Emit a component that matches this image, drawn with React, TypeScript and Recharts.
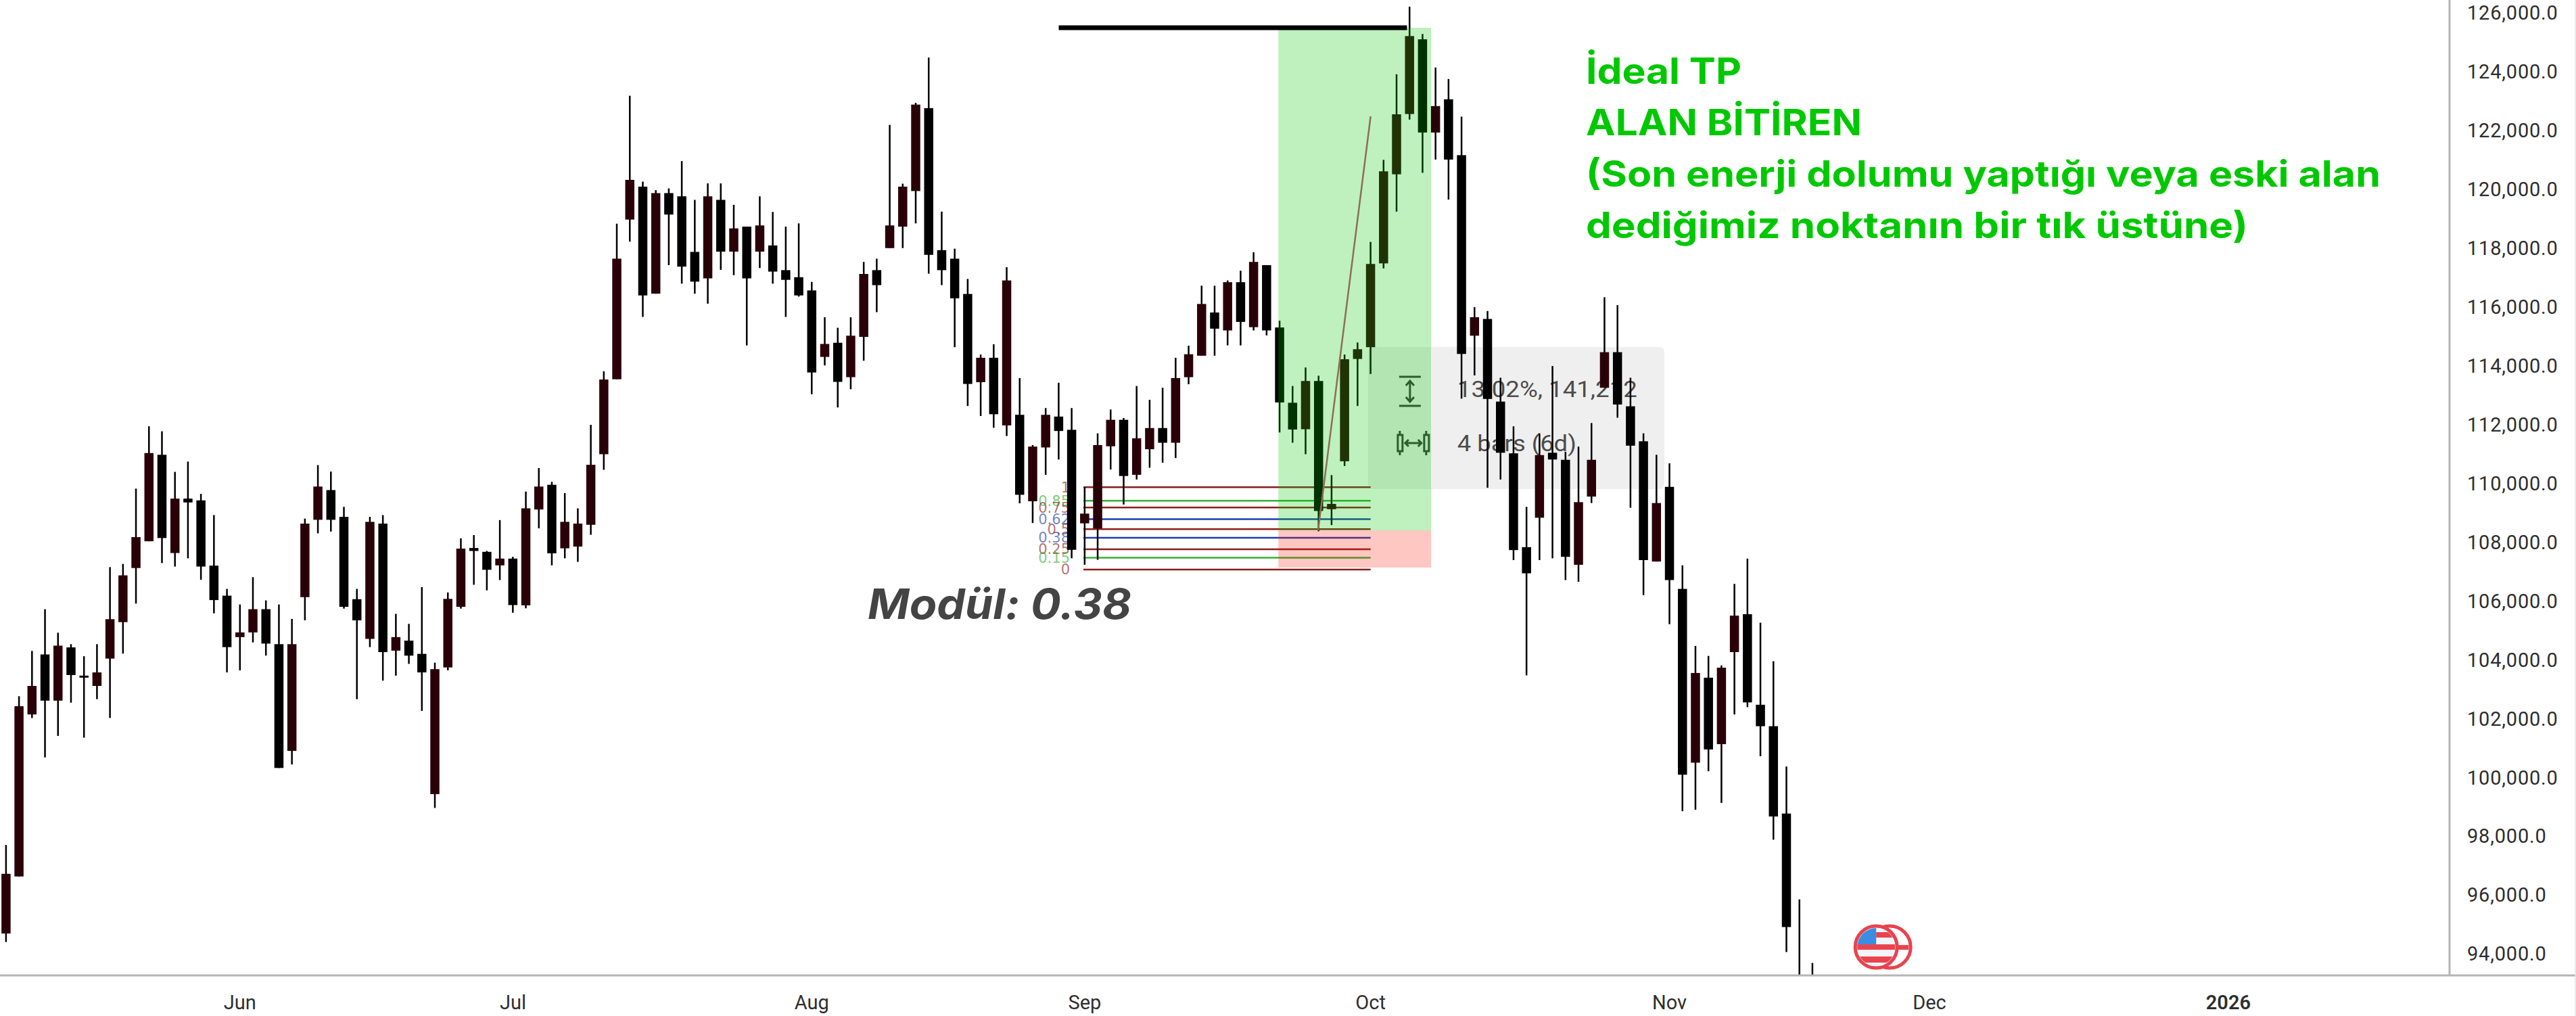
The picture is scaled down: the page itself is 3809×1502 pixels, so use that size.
import React from "react";
import {
  ComposedChart,
  Bar,
  XAxis,
  YAxis,
  ReferenceArea,
  ReferenceLine,
  ReferenceDot,
} from "recharts";

// price per candle (the last two bodies sit below the visible range)
const opens = [
  94690, 96630, 102140, 104180, 102610, 104420, 103460, 103110, 104040, 105280,
  107120, 108030, 110970, 107630, 109480, 109420, 107200, 106180, 104770, 104930,
  105720, 104530, 100900, 106130, 108760, 109770, 108860, 106060, 104710, 108630,
  104310, 104650, 104200, 99430, 103740, 105800, 107800, 107670, 107210, 107440,
  105850, 109110, 109950, 107790, 107850, 108590, 110990, 113540, 118970, 120090,
  116450, 119870, 119760, 117870, 116970, 119640, 117880, 118730, 117880, 118090,
  117250, 117010, 116560, 114300, 114780, 113610, 114980, 117250, 118000, 118730,
  119940, 122760, 117930, 117640, 116440, 113440, 114270, 111970, 112330, 109390,
  111220, 112270, 111820, 108640, 108470, 111260, 112160, 110290, 111160, 111880,
  111380, 113610, 114340, 115810, 115200, 116840, 115310, 117420, 115300, 112740,
  111840, 113480, 109120, 110750, 114230, 114630, 117480, 120510, 122560, 125100,
  121930, 123060, 121160, 115020, 115590, 112780, 111020, 107830, 108830, 111040,
  110800, 107230, 109550, 113250, 114460, 112620, 111430, 107340, 109880, 106410,
  100500, 103390, 101130, 104260, 105550, 102470, 101740, 98770, 93000, 92000,
];
const closes = [
  96720, 102420, 103110, 102610, 104480, 103480, 103400, 103570, 105380, 106870,
  108170, 111030, 108140, 109480, 109350, 107170, 106030, 104430, 104930, 105720,
  104550, 100320, 104530, 108630, 109890, 108760, 105800, 105340, 108690, 104260,
  104770, 104140, 103570, 103680, 106070, 107780, 107700, 107060, 107440, 105860,
  109150, 109890, 107620, 108690, 108630, 110630, 113530, 117640, 120320, 116390,
  119870, 119140, 117370, 116860, 119760, 117880, 118670, 116970, 118770, 117200,
  116920, 116390, 113770, 114740, 113450, 115020, 117120, 116740, 118770, 120090,
  122880, 117770, 117250, 116290, 113380, 114270, 112350, 116900, 109610, 111250,
  112330, 111780, 107740, 108970, 111300, 112160, 110250, 111530, 111880, 111380,
  113580, 114390, 116100, 115260, 116840, 115490, 117530, 115200, 112750, 111830,
  113480, 109060, 109300, 114220, 114560, 117460, 120610, 122550, 125210, 121930,
  122830, 121010, 114400, 115650, 112870, 111040, 107730, 106940, 110960, 110810,
  107500, 109360, 110800, 114460, 112680, 111280, 107390, 109330, 106710, 100090,
  103550, 100950, 103730, 105500, 102550, 101740, 98670, 94910, 91000, 90500,
];
const highs = [
  97700, 102760, 104300, 105720, 104920, 104530, 104120, 104530, 107150, 107260,
  109820, 111940, 111770, 110390, 110740, 109640, 108920, 106410, 105880, 106810,
  106020, 105880, 105390, 108800, 110620, 110400, 109200, 106410, 108860, 108920,
  105560, 105220, 106470, 103900, 106290, 108130, 108240, 107700, 108750, 107500,
  109720, 110520, 110050, 109670, 109150, 111990, 113810, 118830, 123180, 120260,
  119970, 120030, 120960, 119640, 120200, 120200, 119470, 118730, 119760, 119230,
  118730, 118840, 116850, 115650, 115290, 115650, 117530, 117640, 122190, 120190,
  122940, 124480, 119240, 117980, 116950, 114380, 114730, 117350, 113580, 111300,
  112560, 113420, 112560, 109870, 111700, 112510, 112220, 113310, 112840, 113250,
  114270, 114680, 116720, 116720, 116900, 117230, 117860, 117420, 115530, 113310,
  113940, 113660, 110280, 114380, 114790, 118210, 121000, 123910, 126210, 125280,
  124140, 123750, 122470, 115990, 115860, 113590, 111940, 109200, 111700, 113990,
  111070, 111250, 112050, 116330, 116060, 113590, 111700, 110970, 110680, 107210,
  104470, 104130, 103810, 106580, 107440, 105260, 103950, 100370, 95850, 93690,
];
const lows = [
  94400, 96630, 102020, 100680, 101410, 102540, 101350, 102660, 102020, 104210,
  105910, 108030, 107290, 107170, 107450, 106720, 105580, 103570, 103640, 104590,
  104140, 100320, 100440, 105340, 108300, 108360, 105740, 102660, 104430, 103290,
  103460, 103860, 102260, 98960, 103640, 105740, 106550, 106360, 106710, 105600,
  105750, 108470, 107210, 107450, 107330, 108250, 110460, 113540, 118220, 115660,
  116450, 117420, 116790, 116450, 116110, 117260, 117080, 114690, 117320, 116790,
  115660, 116350, 113030, 114010, 112580, 113200, 114170, 115820, 118000, 118000,
  118840, 117130, 116740, 114630, 112630, 112290, 111890, 111610, 109320, 108650,
  110290, 110810, 107450, 107230, 107400, 110470, 109280, 110130, 110530, 110700,
  110860, 113370, 114340, 114340, 114690, 114690, 115200, 115030, 111730, 111380,
  110990, 108370, 108580, 110590, 112630, 113720, 117310, 119240, 122370, 120560,
  121010, 119650, 112880, 113670, 109850, 110130, 107390, 103470, 107390, 107450,
  106710, 106650, 109330, 113250, 112230, 109170, 106200, 107340, 105210, 98850,
  98900, 100210, 99130, 102140, 102390, 100720, 97880, 94060, 90000, 89000,
];

const priceTicks = [
  94000, 96000, 98000, 100000, 102000, 104000, 106000, 108000, 110000, 112000,
  114000, 116000, 118000, 120000, 122000, 124000, 126000,
];
const monthTicks = [18, 39, 62, 83, 105, 128, 148, 171];
const monthLabels = ["Jun", "Jul", "Aug", "Sep", "Oct", "Nov", "Dec", "2026"];

const fibLabels = ["1", "0.85", "0.75", "0.62", "0.5", "0.38", "0.25", "0.15", "0"];
const fibPrices = [109870, 109410, 109180, 108780, 108440, 108150, 107760, 107470, 107070];
const fibColors = ["#8c1c1c", "#35b035", "#8c1c1c", "#1c3fb0", "#8c1c1c", "#1c3fb0", "#8c1c1c", "#35b035", "#8c1c1c"];

const noteLines = [
  "İdeal TP",
  "ALAN BİTİREN",
  "(Son enerji dolumu yaptığı veya eski alan",
  "dediğimiz noktanın bir tık üstüne)",
];

const MAROON = "#2a0008";
const UI_FONT = "Roboto, sans-serif";

const chartData = opens.map((open, i) => ({
  idx: i,
  open,
  close: closes[i],
  range: [lows[i], highs[i]],
}));

// one bar spans low..high, the body is placed inside it with the same scale
const Candle = (props: any) => {
  const { x, y, width, height, payload } = props;
  const { open, close, range } = payload;
  const perUnit = height / (range[1] - range[0]);
  const bodyTop = y + (range[1] - Math.max(open, close)) * perUnit;
  const bodyHeight = Math.max(Math.abs(open - close) * perUnit, 3);
  const cx = x + width / 2;
  return (
    <g>
      <rect x={cx - 1.25} y={y} width={2.5} height={height} fill="#000" />
      <rect
        x={cx - 6.75}
        y={bodyTop}
        width={13.5}
        height={bodyHeight}
        fill={close > open ? MAROON : "#000"}
      />
    </g>
  );
};

const MonthTick = (props: any) => {
  const { x, y, payload } = props;
  const label = monthLabels[monthTicks.indexOf(payload.value)];
  return (
    <text
      x={x}
      y={y + 42}
      textAnchor="middle"
      fill="#2e2e2e"
      fontFamily={UI_FONT}
      fontSize={29}
      fontWeight={label === "2026" ? 600 : 400}
    >
      {label}
    </text>
  );
};

const FibLine = (index: number) => (props: any) => {
  const { x1, y1, x2, y2 } = props;
  return (
    <g>
      <text
        x={x1 - 20}
        y={y1 + 7.5}
        textAnchor="end"
        fill={fibColors[index]}
        fillOpacity={0.65}
        fontFamily="DejaVu Sans, sans-serif"
        fontSize={21}
      >
        {fibLabels[index]}
      </text>
      <line x1={x1} y1={y1} x2={x2} y2={y2} stroke={fibColors[index]} strokeWidth={2.5} />
    </g>
  );
};

// grey measure box with its two icons and texts, sits behind the candles
const MeasureBox = (props: any) => {
  const { x, y, width, height } = props;
  const iconA = x + 62;
  const iconB = x + 64;
  const textX = x + 132;
  return (
    <g>
      <rect x={x} y={y} width={width} height={height} rx={7} fill="#efefef" />
      <g stroke="#3a3a3a" strokeWidth={3} fill="none">
        <line x1={iconA - 16} y1={y + 44} x2={iconA + 16} y2={y + 44} />
        <line x1={iconA - 16} y1={y + 87} x2={iconA + 16} y2={y + 87} />
        <path d={`M${iconA} ${y + 50} V${y + 81} M${iconA - 6} ${y + 57} L${iconA} ${y + 50} L${iconA + 6} ${y + 57} M${iconA - 6} ${y + 74} L${iconA} ${y + 81} L${iconA + 6} ${y + 74}`} />
        <rect x={iconB - 20} y={y + 130} width={7} height={24} />
        <rect x={iconB + 19} y={y + 130} width={7} height={24} />
        <path d={`M${iconB - 17} ${y + 124} V${y + 130} M${iconB + 22} ${y + 124} V${y + 130} M${iconB - 17} ${y + 154} V${y + 160} M${iconB + 22} ${y + 154} V${y + 160} M${iconB - 9} ${y + 142} H${iconB + 15} M${iconB - 4} ${y + 137} L${iconB - 9} ${y + 142} L${iconB - 4} ${y + 147} M${iconB + 10} ${y + 137} L${iconB + 15} ${y + 142} L${iconB + 10} ${y + 147}`} />
      </g>
      <text x={textX} y={y + 74} fill="#4c4c4c" fontFamily={UI_FONT} fontSize={34} textLength={266} lengthAdjust="spacingAndGlyphs">
        13.02%, 141,212
      </text>
      <text x={textX} y={y + 154} fill="#4c4c4c" fontFamily={UI_FONT} fontSize={34} textLength={176} lengthAdjust="spacingAndGlyphs">
        4 bars (6d)
      </text>
    </g>
  );
};

const FlagCoin = (props: any) => {
  const { cx, cy } = props;
  const r = 31;
  return (
    <g>
      <circle cx={cx + 20} cy={cy} r={r} fill="#fff" stroke="#e8434e" strokeWidth={5} />
      <rect x={cx + 30} y={cy - 3} width={18} height={7} fill="#e8434e" />
      <clipPath id="coinClip">
        <circle cx={cx} cy={cy} r={r - 3} />
      </clipPath>
      <circle cx={cx} cy={cy} r={r} fill="#f3f5fb" stroke="#e8434e" strokeWidth={5} />
      <g clipPath="url(#coinClip)">
        <rect x={cx - r} y={cy - 4} width={r * 2} height={8} fill="#e8434e" />
        <rect x={cx - r} y={cy + 14} width={r * 2} height={9} fill="#e8434e" />
        <rect x={cx} y={cy - 22} width={r} height={8} fill="#e8434e" />
        <rect x={cx - r} y={cy - r} width={r} height={27} fill="#3a8de0" />
      </g>
    </g>
  );
};

export default function App() {
  return (
    <div style={{ position: "absolute", left: 0, top: 0, width: 3809, height: 1502, background: "#fff" }}>
      <ComposedChart
        width={3809}
        height={1502}
        data={chartData}
        margin={{ top: 0, right: 0, bottom: 0, left: 0 }}
      >
        <XAxis
          dataKey="idx"
          type="number"
          domain={[-0.468, 188.02]}
          allowDataOverflow
          ticks={monthTicks}
          interval={0}
          height={60}
          tick={<MonthTick />}
          tickLine={false}
          axisLine={{ stroke: "#b5b5b5", strokeWidth: 3 }}
        />
        <YAxis
          orientation="right"
          width={187}
          domain={[93265, 126437]}
          allowDataOverflow
          ticks={priceTicks}
          interval={0}
          tickSize={0}
          tickMargin={26}
          tickFormatter={(v: number) => `${v.toLocaleString("en-US")}.0`}
          tick={{ fill: "#2e2e2e", fontSize: 29, fontFamily: UI_FONT, letterSpacing: 0.8 }}
          axisLine={{ stroke: "#b5b5b5", strokeWidth: 3 }}
        />

        <ReferenceArea
          x1={104.8}
          x2={127.6}
          y1={109805}
          y2={114636}
          zIndex={100}
          ifOverflow="visible"
          shape={<MeasureBox />}
        />
        {fibPrices.map((price, i) => (
          <ReferenceLine
            key={fibLabels[i] + i}
            segment={[{ x: 82.9, y: price }, { x: 105, y: price }]}
            zIndex={200}
            ifOverflow="visible"
            shape={FibLine(i)}
          />
        ))}

        <Bar
          dataKey="range"
          barSize={13}
          isAnimationActive={false}
          shape={<Candle />}
          zIndex={300}
        />

        <ReferenceArea
          x1={97.9}
          x2={109.65}
          y1={108400}
          y2={125494}
          fill="rgb(0,200,0)"
          fillOpacity={0.255}
          stroke="none"
          zIndex={350}
          ifOverflow="visible"
        />
        <ReferenceArea
          x1={97.9}
          x2={109.65}
          y1={107137}
          y2={108400}
          fill="rgb(250,20,0)"
          fillOpacity={0.24}
          stroke="none"
          zIndex={350}
          ifOverflow="visible"
        />
        <ReferenceLine
          segment={[{ x: 100.96, y: 108400 }, { x: 105, y: 122480 }]}
          stroke="#8d6f52"
          strokeWidth={2.5}
          zIndex={400}
          ifOverflow="visible"
        />
        <ReferenceLine
          segment={[{ x: 81, y: 125494 }, { x: 107.8, y: 125494 }]}
          stroke="#000"
          strokeWidth={7}
          zIndex={400}
          ifOverflow="visible"
        />
        <ReferenceDot
          x={143.9}
          y={94230}
          r={31}
          zIndex={400}
          ifOverflow="visible"
          shape={<FlagCoin />}
        />
      </ComposedChart>

      {/* free-standing notes drawn on the picture, plus the axis line past the price scale */}
      <svg
        width={3809}
        height={1502}
        style={{ position: "absolute", left: 0, top: 0, pointerEvents: "none" }}
      >
        <line x1={3622} y1={1442} x2={3809} y2={1442} stroke="#b5b5b5" strokeWidth={3} />
        <line x1={3808} y1={0} x2={3808} y2={1502} stroke="#e4e4e4" strokeWidth={1.5} />
        <text
          x={1283}
          y={915}
          fill="#444"
          fontFamily="Inter, sans-serif"
          fontStyle="italic"
          fontWeight={700}
          fontSize={62}
          textLength={390}
          lengthAdjust="spacingAndGlyphs"
        >
          Modül: 0.38
        </text>
        {noteLines.map((line, i) => (
          <text
            key={line}
            x={2345}
            y={[124, 200, 276, 352][i]}
            fill="#00c800"
            fontFamily="Inter, sans-serif"
            fontWeight={700}
            fontSize={54}
            textLength={[230, 408, 1175, 979][i]}
            lengthAdjust="spacingAndGlyphs"
          >
            {line}
          </text>
        ))}
      </svg>
    </div>
  );
}
